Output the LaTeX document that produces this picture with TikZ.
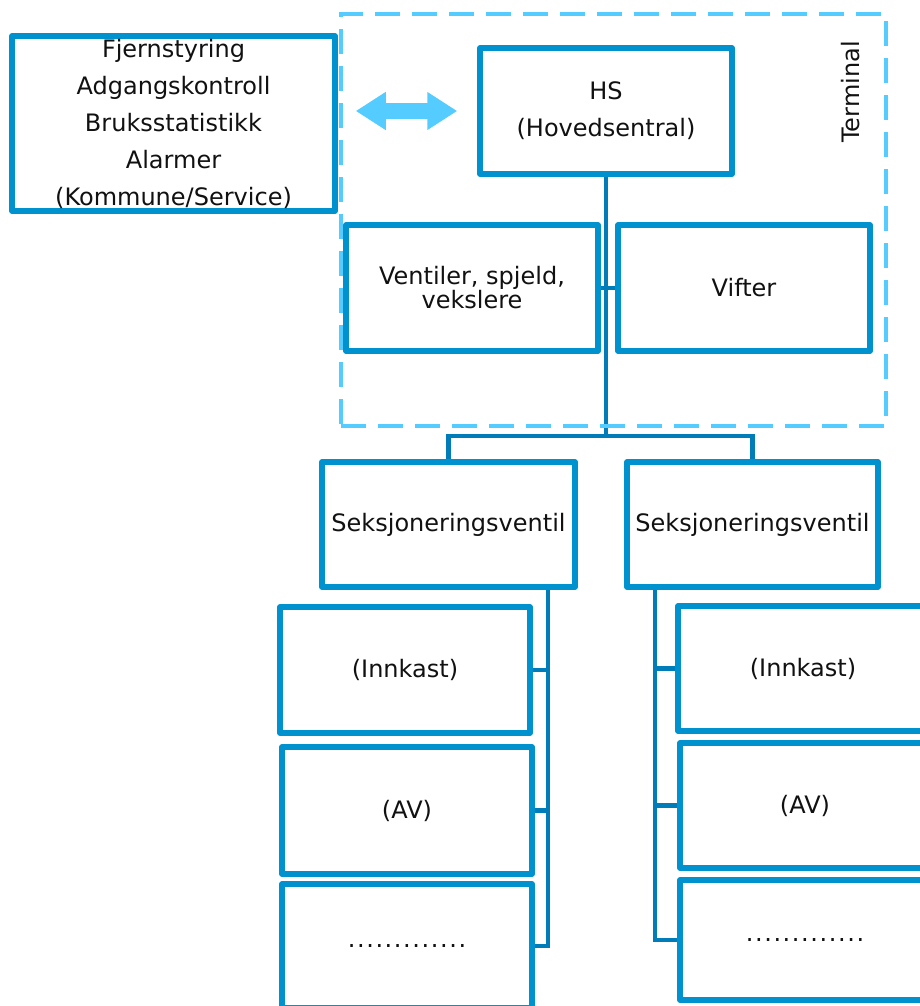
\documentclass[tikz,border=0pt]{standalone}
\usepackage{fontspec}
\setmainfont{DejaVu Sans}
\usetikzlibrary{arrows.meta}
\definecolor{boxc}{RGB}{0,146,206}
\definecolor{linec}{RGB}{0,124,184}
\definecolor{lightc}{RGB}{85,204,255}
\definecolor{txt}{RGB}{17,17,17}
\newcommand{\mydots}{.\kern1.6pt.\kern1.6pt.\kern1.6pt.\kern1.6pt.\kern1.6pt.\kern1.6pt.\kern1.6pt.\kern1.6pt.\kern1.6pt.\kern1.6pt.\kern1.6pt.\kern1.6pt.}
\tikzset{
  bx/.style={draw=boxc, line width=5.5pt, line join=round, fill=white, inner sep=0pt,
    text=txt, align=center, font=\fontsize{24}{37}\selectfont},
  conn/.style={draw=linec, line width=4.5pt},
  termbox/.style={draw=lightc, line width=4pt, dash pattern=on 25pt off 12pt, inner sep=0pt},
  bigarrow/.style={draw=lightc, line width=16pt,
    {Triangle[length=30pt,width=36pt]}-{Triangle[length=30pt,width=36pt]}}
}
\begin{document}
\begin{tikzpicture}[x=1pt,y=-1pt]
\useasboundingbox (0,0) rectangle (920,1006);
\clip (0,0) rectangle (920,1006);
\fill[white] (0,0) rectangle (920,1006);

% nodes
\node[bx, minimum width=323pt, minimum height=175pt] (ext) at (173.5,123.5)
  {Fjernstyring\\Adgangskontroll\\Bruksstatistikk\\Alarmer\\(Kommune/Service)};
\node[bx, minimum width=252pt, minimum height=126pt] (HS) at (606,111) {HS\\(Hovedsentral)};
\node[bx, minimum width=252pt, minimum height=126pt, font=\fontsize{24}{24}\selectfont] (VS) at (472,288) {Ventiler, spjeld,\\vekslere};
\node[bx, minimum width=252pt, minimum height=126pt] (VF) at (744,288) {Vifter};
\node[bx, minimum width=253pt, minimum height=125pt] (SL) at (448.5,524.5) {Seksjoneringsventil};
\node[bx, minimum width=251pt, minimum height=125pt] (SR) at (752.5,524.5) {Seksjoneringsventil};
\node[bx, minimum width=250pt, minimum height=126pt] (IL) at (405,670) {(Innkast)};
\node[bx, minimum width=250pt, minimum height=127pt] (AL) at (407,810.5) {(AV)};
\node[bx, minimum width=250pt, minimum height=124pt] (DL) at (407,946) {\mydots};
\node[bx, minimum width=250pt, minimum height=125pt] (IR) at (803,668.5) {(Innkast)};
\node[bx, minimum width=250pt, minimum height=125pt] (AR) at (805,805.5) {(AV)};
\node[bx, minimum width=250pt, minimum height=120pt] (DR) at (805,940) {\mydots};

% connectors
\coordinate (bus) at (606,436);
\coordinate (spL) at (548,0);
\coordinate (spR) at (655,0);
\draw[conn] (HS.south) -- (bus);
\draw[conn] (SL.north) |- (bus) -| (SR.north);
\draw[conn] (VS.east) -- (VF.west);
\draw[conn] (SL.south -| spL) |- (DL.east);
\draw[conn] (IL.east) -- (IL.east -| spL);
\draw[conn] (AL.east) -- (AL.east -| spL);
\draw[conn] (SR.south -| spR) |- (DR.west);
\draw[conn] (IR.west) -- (IR.west -| spR);
\draw[conn] (AR.west) -- (AR.west -| spR);

% terminal frame
\node[termbox, minimum width=545pt, minimum height=412pt] (T) at (613.5,220) {};
\node[rotate=90, text=txt, font=\fontsize{24}{28}\selectfont] (Tl) at (851,92) {Terminal};

% double arrow
\draw[bigarrow, shorten <=18pt, shorten >=20pt] (ext.east |- HS.west) -- (HS.west);
\end{tikzpicture}
\end{document}
